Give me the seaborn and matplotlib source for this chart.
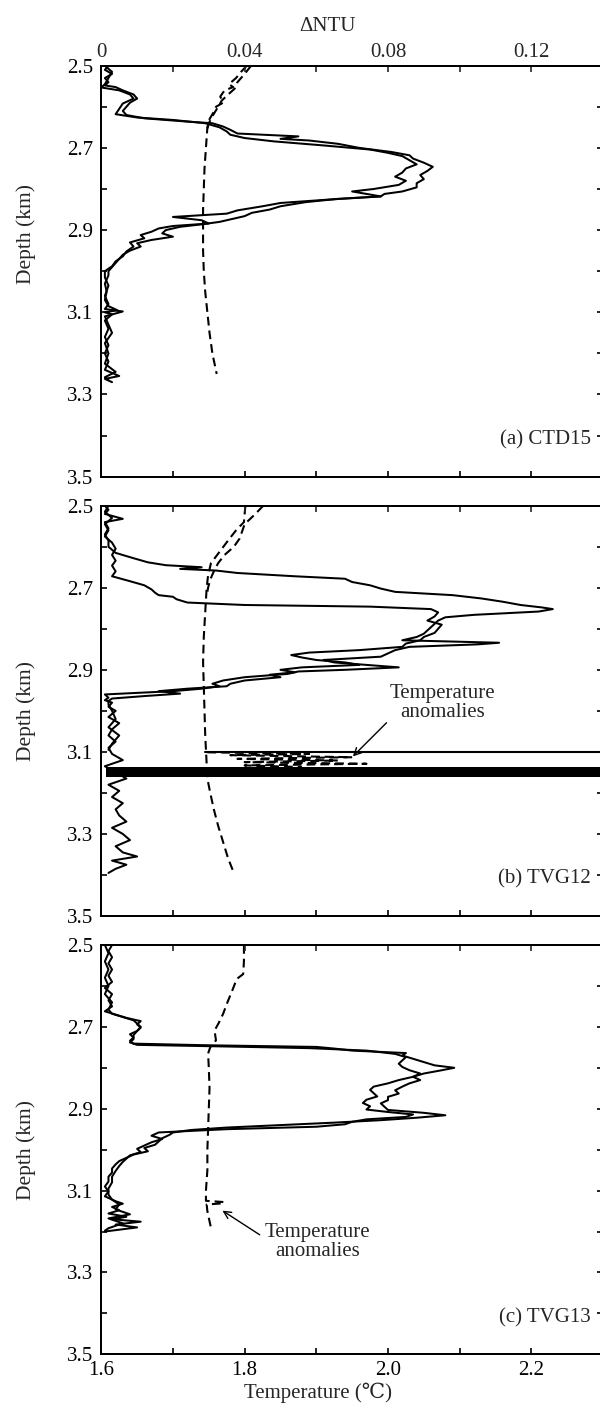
import numpy as np
import pandas as pd
import seaborn as sns
import matplotlib.pyplot as plt

# ---- panel (a) CTD15 ----
a_d1 = [2.500, 2.510, 2.520, 2.530, 2.540, 2.548, 2.552, 2.560, 2.570, 2.580, 2.590, 2.600, 2.610, 2.620,
        2.628, 2.636, 2.640, 2.648, 2.656, 2.665, 2.672, 2.678, 2.682, 2.690, 2.700, 2.710, 2.718, 2.726,
        2.736, 2.746, 2.756, 2.766, 2.776, 2.786, 2.796, 2.806, 2.812, 2.818, 2.824, 2.832, 2.842, 2.850,
        2.858, 2.866, 2.874, 2.880, 2.886, 2.892, 2.900, 2.908, 2.916, 2.924, 2.932, 2.940, 2.950, 2.960,
        2.970, 2.980, 2.990, 3.000, 3.010, 3.030, 3.050, 3.070, 3.085, 3.095, 3.100, 3.105, 3.120, 3.140,
        3.160, 3.180, 3.200, 3.220, 3.240, 3.255, 3.262, 3.270]
a_n1 = [0.002, 0.001, 0.003, 0.001, 0.002, 0.001, 0.004, 0.006, 0.009, 0.010, 0.008, 0.007, 0.006, 0.007,
        0.012, 0.024, 0.031, 0.034, 0.036, 0.038, 0.055, 0.050, 0.058, 0.066, 0.072, 0.081, 0.086, 0.087,
        0.090, 0.0925, 0.091, 0.089, 0.090, 0.088, 0.088, 0.084, 0.079, 0.078, 0.066, 0.057, 0.050, 0.047,
        0.042, 0.040, 0.036, 0.033, 0.028, 0.022, 0.018, 0.017, 0.020, 0.014, 0.010, 0.011, 0.008, 0.006,
        0.005, 0.004, 0.003, 0.002, 0.002, 0.001, 0.0015, 0.001, 0.002, 0.0045, 0.001, 0.003, 0.001, 0.002,
        0.001, 0.002, 0.001, 0.002, 0.001, 0.005, 0.001, 0.003]
a_d2 = [2.500, 2.515, 2.530, 2.545, 2.553, 2.560, 2.570, 2.580, 2.592, 2.605, 2.618, 2.626, 2.632, 2.640,
        2.650, 2.660, 2.668, 2.676, 2.684, 2.694, 2.704, 2.712, 2.720, 2.730, 2.740, 2.750, 2.760, 2.770,
        2.780, 2.790, 2.800, 2.806, 2.812, 2.818, 2.826, 2.834, 2.842, 2.852, 2.860, 2.868, 2.876, 2.884,
        2.890, 2.896, 2.904, 2.912, 2.920, 2.930, 2.940, 2.952, 2.964, 2.976, 2.988, 3.000, 3.015, 3.035,
        3.060, 3.080, 3.092, 3.098, 3.110, 3.130, 3.150, 3.175, 3.200, 3.225, 3.245, 3.258, 3.265]
a_n2 = [0.001, 0.003, 0.002, 0.001, 0.000, 0.005, 0.008, 0.009, 0.006, 0.005, 0.004, 0.010, 0.020, 0.029,
        0.033, 0.035, 0.036, 0.040, 0.048, 0.062, 0.075, 0.080, 0.084, 0.086, 0.088, 0.085, 0.084, 0.082,
        0.085, 0.083, 0.076, 0.070, 0.074, 0.078, 0.063, 0.050, 0.045, 0.038, 0.035, 0.020, 0.028, 0.030,
        0.020, 0.016, 0.014, 0.011, 0.012, 0.008, 0.009, 0.007, 0.006, 0.004, 0.003, 0.001, 0.001, 0.002,
        0.001, 0.002, 0.001, 0.006, 0.001, 0.002, 0.003, 0.001, 0.002, 0.001, 0.004, 0.001, 0.002]
a_td1 = [2.500, 2.515, 2.530, 2.545, 2.552, 2.560, 2.575, 2.590, 2.600, 2.615, 2.630, 2.650, 2.700, 2.750,
         2.800, 2.850, 2.900, 2.950, 3.000, 3.050, 3.100, 3.150, 3.200, 3.250]
a_t1 = [1.803, 1.795, 1.788, 1.778, 1.784, 1.772, 1.766, 1.770, 1.760, 1.756, 1.751, 1.748, 1.746, 1.744,
        1.743, 1.742, 1.742, 1.742, 1.743, 1.745, 1.748, 1.751, 1.755, 1.761]
a_td2 = [2.500, 2.520, 2.540, 2.556, 2.570, 2.585, 2.600, 2.620, 2.640, 2.660]
a_t2 = [1.809, 1.800, 1.790, 1.786, 1.777, 1.768, 1.763, 1.756, 1.750, 1.747]

# ---- panel (b) TVG12 ----
b_d1 = [2.500, 2.510, 2.520, 2.532, 2.540, 2.555, 2.570, 2.585, 2.600, 2.615, 2.628, 2.638, 2.645, 2.650,
        2.654, 2.658, 2.664, 2.672, 2.678, 2.686, 2.694, 2.702, 2.710, 2.718, 2.726, 2.734, 2.742, 2.748,
        2.752, 2.758, 2.766, 2.772, 2.780, 2.788, 2.796, 2.804, 2.812, 2.820, 2.828, 2.834, 2.838, 2.844,
        2.852, 2.860, 2.868, 2.876, 2.882, 2.888, 2.894, 2.900, 2.904, 2.910, 2.918, 2.926, 2.934, 2.940,
        2.946, 2.952, 2.960, 2.968, 2.974, 2.980, 2.990, 3.000, 3.015, 3.030, 3.045, 3.060, 3.075, 3.090,
        3.105, 3.120, 3.135, 3.150, 3.165, 3.180, 3.195, 3.210, 3.225, 3.240, 3.255, 3.270, 3.285, 3.300,
        3.315, 3.330, 3.345, 3.355, 3.365, 3.375, 3.385, 3.395]
b_n1 = [0.001, 0.002, 0.001, 0.006, 0.001, 0.002, 0.001, 0.002, 0.002, 0.004, 0.009, 0.013, 0.018, 0.028,
        0.022, 0.032, 0.038, 0.054, 0.068, 0.070, 0.075, 0.078, 0.082, 0.098, 0.106, 0.112, 0.117, 0.123,
        0.126, 0.122, 0.104, 0.096, 0.094, 0.093, 0.092, 0.091, 0.090, 0.088, 0.084, 0.111, 0.105, 0.086,
        0.082, 0.080, 0.078, 0.062, 0.065, 0.074, 0.083, 0.068, 0.055, 0.052, 0.040, 0.034, 0.031, 0.033,
        0.028, 0.020, 0.001, 0.002, 0.001, 0.003, 0.002, 0.004, 0.002, 0.005, 0.003, 0.002, 0.004, 0.002,
        0.003, 0.006, 0.001, 0.004, 0.007, 0.002, 0.005, 0.003, 0.006, 0.004, 0.005, 0.007, 0.003, 0.006,
        0.008, 0.004, 0.006, 0.010, 0.003, 0.007, 0.004, 0.002]
b_d2 = [2.500, 2.515, 2.530, 2.545, 2.560, 2.575, 2.590, 2.605, 2.620, 2.634, 2.646, 2.660, 2.672, 2.684,
        2.694, 2.704, 2.712, 2.718, 2.722, 2.728, 2.736, 2.742, 2.746, 2.752, 2.760, 2.770, 2.780, 2.790,
        2.800, 2.810, 2.820, 2.828, 2.836, 2.844, 2.852, 2.858, 2.864, 2.870, 2.876, 2.882, 2.888, 2.894,
        2.900, 2.906, 2.912, 2.918, 2.926, 2.934, 2.940, 2.946, 2.952, 2.958, 2.964, 2.970, 2.976, 2.985,
        3.000, 3.020, 3.040, 3.060, 3.080, 3.095]
b_n2 = [0.002, 0.001, 0.003, 0.001, 0.002, 0.001, 0.003, 0.004, 0.003, 0.004, 0.003, 0.004, 0.003, 0.008,
        0.012, 0.014, 0.015, 0.016, 0.020, 0.021, 0.024, 0.040, 0.075, 0.092, 0.094, 0.093, 0.091, 0.095,
        0.094, 0.093, 0.090, 0.089, 0.085, 0.084, 0.072, 0.058, 0.053, 0.056, 0.060, 0.068, 0.072, 0.056,
        0.050, 0.054, 0.047, 0.050, 0.040, 0.036, 0.035, 0.024, 0.016, 0.022, 0.012, 0.003, 0.002, 0.002,
        0.003, 0.004, 0.002, 0.005, 0.003, 0.002]
b_td1 = [2.500, 2.540, 2.560, 2.580, 2.610, 2.640, 2.670, 2.700, 2.760, 2.820, 2.880, 2.940, 3.000, 3.060,
         3.094, 3.165, 3.200, 3.240, 3.280, 3.320, 3.360, 3.395]
b_t1 = [1.801, 1.799, 1.788, 1.779, 1.766, 1.753, 1.749, 1.747, 1.745, 1.743, 1.742, 1.743, 1.744, 1.745,
        1.746, 1.748, 1.752, 1.757, 1.763, 1.770, 1.777, 1.785]
b_td2 = [2.500, 2.520, 2.545, 2.560, 2.580, 2.600, 2.620, 2.640, 2.660, 2.680, 2.700, 2.720]
b_t2 = [1.826, 1.815, 1.800, 1.797, 1.793, 1.785, 1.772, 1.763, 1.757, 1.752, 1.749, 1.747]
# temperature anomalies
b_spike_d = [3.101, 3.105, 3.108, 3.113, 3.117, 3.121, 3.125, 3.129, 3.133, 3.137]
b_spike_t = [1.748, 1.890, 1.780, 1.950, 1.790, 1.930, 1.800, 1.970, 1.800, 1.880]
b_line_d = 3.0996
b_line_t = [1.745, 2.40]
b_band_d = [3.138, 3.162]
b_band_t = [1.606, 2.40]

# ---- panel (c) TVG13 ----
c_d1 = [2.500, 2.515, 2.530, 2.545, 2.560, 2.575, 2.590, 2.605, 2.620, 2.635, 2.650, 2.662, 2.670, 2.678,
        2.686, 2.694, 2.702, 2.710, 2.718, 2.726, 2.734, 2.741, 2.745, 2.749, 2.753, 2.758, 2.764, 2.770,
        2.778, 2.786, 2.794, 2.800, 2.806, 2.814, 2.822, 2.830, 2.838, 2.846, 2.855, 2.863, 2.871, 2.879,
        2.887, 2.895, 2.903, 2.910, 2.916, 2.922, 2.928, 2.934, 2.940, 2.946, 2.952, 2.958, 2.964, 2.972,
        2.980, 2.988, 2.996, 3.004, 3.012, 3.020, 3.028, 3.036, 3.046, 3.056, 3.066, 3.078, 3.090, 3.102,
        3.114, 3.126, 3.132, 3.140, 3.148, 3.156, 3.164, 3.170, 3.176, 3.183, 3.190, 3.200]
c_n1 = [0.003, 0.002, 0.003, 0.002, 0.003, 0.002, 0.003, 0.001, 0.003, 0.002, 0.003, 0.001, 0.004, 0.007,
        0.011, 0.010, 0.011, 0.010, 0.008, 0.009, 0.008, 0.009, 0.030, 0.060, 0.065, 0.070, 0.085, 0.084,
        0.087, 0.090, 0.093, 0.0985, 0.095, 0.090, 0.087, 0.089, 0.086, 0.084, 0.082, 0.083, 0.080, 0.080,
        0.078, 0.079, 0.080, 0.090, 0.096, 0.088, 0.078, 0.065, 0.050, 0.035, 0.025, 0.020, 0.019, 0.017,
        0.016, 0.015, 0.012, 0.013, 0.009, 0.007, 0.005, 0.004, 0.003, 0.003, 0.002, 0.002, 0.001, 0.002,
        0.001, 0.004, 0.006, 0.003, 0.005, 0.002, 0.007, 0.003, 0.011, 0.004, 0.010, 0.001]
c_d2 = [2.500, 2.520, 2.540, 2.560, 2.580, 2.600, 2.620, 2.640, 2.658, 2.668, 2.676, 2.684, 2.692, 2.700,
        2.710, 2.720, 2.730, 2.738, 2.744, 2.748, 2.752, 2.758, 2.766, 2.774, 2.782, 2.790, 2.798, 2.806,
        2.814, 2.822, 2.830, 2.838, 2.846, 2.854, 2.862, 2.870, 2.878, 2.886, 2.894, 2.902, 2.908, 2.914,
        2.920, 2.926, 2.932, 2.938, 2.944, 2.950, 2.958, 2.966, 2.974, 2.982, 2.990, 2.998, 3.006, 3.014,
        3.022, 3.030, 3.040, 3.052, 3.066, 3.080, 3.095, 3.110, 3.122, 3.134, 3.146, 3.158, 3.168, 3.180,
        3.192, 3.198]
c_n2 = [0.001, 0.002, 0.001, 0.002, 0.001, 0.002, 0.001, 0.003, 0.002, 0.003, 0.006, 0.009, 0.010, 0.011,
        0.010, 0.009, 0.009, 0.008, 0.010, 0.035, 0.058, 0.074, 0.082, 0.085, 0.084, 0.083, 0.084, 0.086,
        0.089, 0.087, 0.083, 0.080, 0.076, 0.075, 0.076, 0.077, 0.074, 0.073, 0.075, 0.074, 0.080, 0.087,
        0.085, 0.074, 0.070, 0.068, 0.060, 0.035, 0.016, 0.014, 0.017, 0.014, 0.012, 0.010, 0.011, 0.008,
        0.007, 0.006, 0.005, 0.004, 0.003, 0.003, 0.002, 0.002, 0.003, 0.005, 0.004, 0.008, 0.002, 0.006,
        0.002, 0.001]
c_td1 = [2.500, 2.540, 2.571, 2.583, 2.610, 2.640, 2.668, 2.690, 2.709, 2.733, 2.750, 2.765, 2.800, 2.850,
         2.900, 2.950, 3.000, 3.050, 3.100, 3.125, 3.128, 3.131, 3.134, 3.150, 3.175, 3.198]
c_t1 = [1.799, 1.799, 1.798, 1.789, 1.783, 1.776, 1.770, 1.764, 1.758, 1.760, 1.752, 1.749, 1.750, 1.751,
        1.750, 1.749, 1.748, 1.748, 1.746, 1.746, 1.771, 1.771, 1.747, 1.748, 1.751, 1.754]

panel_labels = ["(a) CTD15", "(b) TVG12", "(c) TVG13"]
temp_ticks = [1.6, 1.8, 2.0, 2.2]
temp_ticklabels = ["1.6", "1.8", "2.0", "2.2"]
ntu_ticks = [0, 0.04, 0.08, 0.12]
ntu_ticklabels = ["0", "0.04", "0.08", "0.12"]
depth_ticks = [2.5, 2.7, 2.9, 3.1, 3.3, 3.5]
depth_ticklabels = ["2.5", "2.7", "2.9", "3.1", "3.3", "3.5"]

# annotation positions (temperature, depth)
b_note_text = (2.076, 2.982)
b_arrow_from = (1.998, 3.029)
b_arrow_to = (1.951, 3.111)
c_note_text = (1.902, 3.226)
c_arrow_from = (1.821, 3.208)
c_arrow_to = (1.769, 3.149)

sns.set_style("ticks")
plt.rcParams['font.family'] = ['Liberation Serif', 'DejaVu Serif', 'DejaVu Sans']
plt.rcParams['font.size'] = 15
plt.rcParams['lines.dashed_pattern'] = [4.2, 2.4]

fig = plt.figure(figsize=(6, 14.09), dpi=100)
W = 600.0
H = 1409.0
left_px, right_px = 101.3, 603.0
tops = [65.7, 505.7, 945.0]
bots = [476.7, 916.0, 1354.3]
ylabel_y = [0.59, 0.5, 0.5]

solid = [[(a_d1, a_n1), (a_d2, a_n2)],
         [(b_d1, b_n1), (b_d2, b_n2)],
         [(c_d1, c_n1), (c_d2, c_n2)]]
dashed = [[(a_td1, a_t1), (a_td2, a_t2)],
          [(b_td1, b_t1), (b_td2, b_t2), (b_spike_d, b_spike_t)],
          [(c_td1, c_t1)]]
notes = [None, (b_note_text, b_arrow_from, b_arrow_to), (c_note_text, c_arrow_from, c_arrow_to)]

for i in range(3):
    ax = fig.add_axes([left_px / W, 1 - bots[i] / H, (right_px - left_px) / W, (bots[i] - tops[i]) / H])
    tw = ax.twiny()

    for d, t in dashed[i]:
        sns.lineplot(x=t, y=d, ax=ax, sort=False, estimator=None, color='k', lw=1.5, ls='--')
    for d, n in solid[i]:
        sns.lineplot(x=n, y=d, ax=tw, sort=False, estimator=None, color='k', lw=1.45)

    if i == 1:
        ax.plot(b_line_t, [b_line_d, b_line_d], color='k', lw=1.5)
        ax.fill_between(b_band_t, b_band_d[0], b_band_d[1], color='k', lw=0)
    if notes[i] is not None:
        txt, a0, a1 = notes[i]
        ax.text(txt[0], txt[1], "Temperature\nanomalies", ha='center', va='center',
                fontsize=15, linespacing=1.0)
        ax.annotate("", xy=a1, xytext=a0,
                    arrowprops=dict(arrowstyle='->', color='k', lw=1.0, shrinkA=0, shrinkB=0,
                                    mutation_scale=13))

    ax.set_xlim(1.6, 2.3)
    tw.set_xlim(0, 0.14)
    ax.set_ylim(3.5, 2.5)

    ax.set_xticks(temp_ticks)
    ax.set_xticks([1.7, 1.9, 2.1, 2.3], minor=True)
    tw.set_xticks(ntu_ticks)
    tw.set_xticks([0.02, 0.06, 0.10, 0.14], minor=True)
    ax.set_yticks(depth_ticks)
    ax.set_yticks([2.6, 2.8, 3.0, 3.2, 3.4], minor=True)
    ax.set_yticklabels(depth_ticklabels)

    ax.tick_params(axis='both', which='both', direction='in', length=4, width=1.2, colors='k',
                   left=True, right=True, bottom=True, top=False, labelright=False)
    ax.tick_params(axis='y', pad=6)
    ax.tick_params(axis='x', pad=5)
    tw.tick_params(axis='x', which='both', direction='in', length=4, width=1.2, top=True, bottom=False,
                   pad=3)

    if i == 2:
        ax.set_xticklabels(temp_ticklabels)
        ax.set_xlabel("Temperature (℃)")
        ax.xaxis.set_label_coords(0.432, -0.07)
    else:
        ax.set_xticklabels([])
        ax.set_xlabel("")
    if i == 0:
        tw.set_xticklabels(ntu_ticklabels)
        tw.set_xlabel("ΔNTU")
        tw.xaxis.set_label_coords(0.45, 1.085)
    else:
        tw.set_xticklabels([])
        tw.set_xlabel("")

    ax.set_ylabel("Depth (km)", fontsize=15.5)
    ax.yaxis.set_label_coords(-0.130, ylabel_y[i])
    ax.text(2.283, 3.41, panel_labels[i], ha='right', va='center', fontsize=15)

    for a in (ax, tw):
        for s in a.spines.values():
            s.set_color('k')
            s.set_linewidth(1.4)

fig.savefig("out.png", dpi=100)
